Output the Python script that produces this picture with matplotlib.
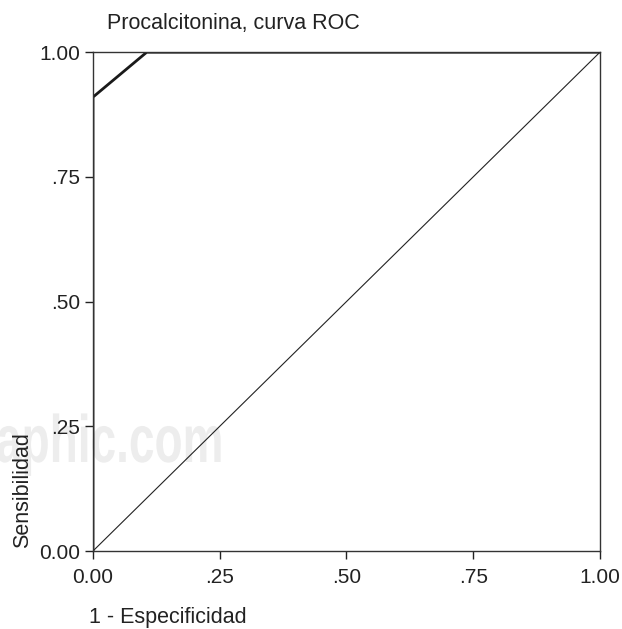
import matplotlib
matplotlib.use("Agg")
import matplotlib.pyplot as plt
import matplotlib.transforms as mtransforms
from matplotlib.textpath import TextPath
from matplotlib.patches import PathPatch
from matplotlib.font_manager import FontProperties

# curva ROC de procalcitonina
fpr = [0.0, 0.0, 0.106, 1.0]
tpr = [0.0, 0.91, 1.0, 1.0]
ref_x = [0.0, 1.0]
ref_y = [0.0, 1.0]
ticks = [0.0, 0.25, 0.5, 0.75, 1.0]
tick_labels = ["0.00", ".25", ".50", ".75", "1.00"]

plt.rcParams["font.family"] = ["Liberation Sans", "DejaVu Sans"]

fig = plt.figure(figsize=(6.22, 6.29), dpi=100)
ax = fig.add_axes([0.1495, 0.124, 0.815, 0.793])
ax.set_facecolor("none")

# marca de agua de fondo (estrecha), en pixeles
tp = TextPath((0, 0), "aphic.com", size=1,
              prop=FontProperties(family="Liberation Sans", weight="bold"))
wm = mtransforms.Affine2D().scale(46, 67).translate(-4, 167)
fig.patches.append(PathPatch(tp, transform=wm, facecolor="#ededed",
                             edgecolor="none", zorder=-5))

ax.plot(ref_x, ref_y, color="#222222", lw=0.8)
ax.plot(fpr, tpr, color="#1a1a1a", lw=2.0, solid_capstyle="butt")

ax.set_xlim(0, 1)
ax.set_ylim(0, 1)
ax.set_xticks(ticks)
ax.set_xticklabels(tick_labels)
ax.set_yticks(ticks)
ax.set_yticklabels(tick_labels)
ax.tick_params(labelsize=15, length=6, width=1, colors="#222222")
ax.tick_params(axis="x", pad=6)
ax.tick_params(axis="y", pad=3)
for s in ax.spines.values():
    s.set_linewidth(1.0)
    s.set_color("#333333")

fig.text(0.172, 0.962, "Procalcitonina, curva ROC", fontsize=15.5, va="center", color="#222222")
fig.text(0.143, 0.009, "1 - Especificidad", fontsize=15.5, va="baseline", color="#222222")
fig.text(0.037, 0.129, "Sensibilidad", fontsize=15.5, rotation=90, ha="center",
         va="bottom", color="#222222")

fig.savefig("out.png", dpi=100)
